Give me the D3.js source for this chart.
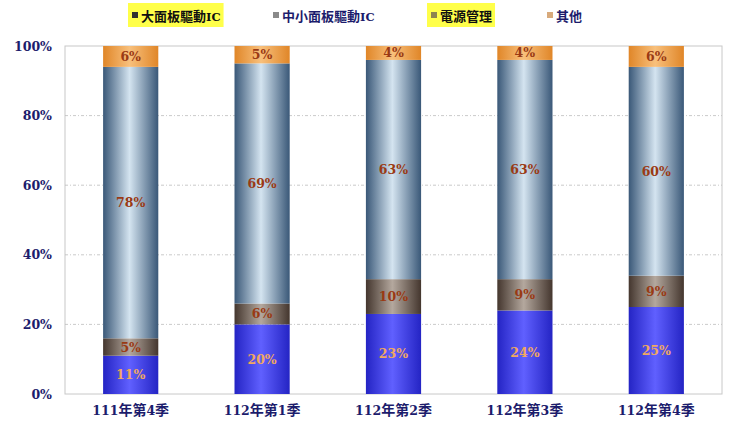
<!DOCTYPE html>
<html>
<head>
<meta charset="utf-8">
<script src="https://cdn.jsdelivr.net/npm/d3@7"></script>
<style>
  body { margin: 0; background: #fff; }
  svg { display: block; }
</style>
</head>
<body>
<svg id="chart" width="740" height="432"></svg>
<script>
// Quarters on the x axis
const quarters = ['111年第4季', '112年第1季', '112年第2季', '112年第3季', '112年第4季']

// Share of each product line, in percent
const largePanel = [11, 20, 23, 24, 25]
const powerMgmt = [5, 6, 10, 9, 9]
const smallPanel = [78, 69, 63, 63, 60]
const others = [6, 5, 4, 4, 6]

const yTicks = [0, 20, 40, 60, 80, 100]

// Stack order, bottom to top
const series = [
  { key: 'large', name: '大面板驅動IC', values: largePanel },
  { key: 'power', name: '電源管理', values: powerMgmt },
  { key: 'small', name: '中小面板驅動IC', values: smallPanel },
  { key: 'other', name: '其他', values: others }
]

// Legend order
const legendOrder = ['large', 'small', 'power', 'other']

const styles = {
  large: { edge: '#2424c4', mid: '#6060ff', label: '#f0a860', swatch: '#303030', highlight: true },
  power: { edge: '#44362e', mid: '#b4a89e', label: '#9a3a14', swatch: '#8c8450', highlight: true },
  small: { edge: '#3a5878', mid: '#d4e4f0', label: '#9a3a14', swatch: '#8a8a8a', highlight: false },
  other: { edge: '#e08628', mid: '#f8c07c', label: '#9a3a14', swatch: '#d8aa7c', highlight: false }
}

const SERIF = '"DejaVu Serif", serif'
const CJK = '"Noto Sans CJK TC", sans-serif'

const margin = { top: 46, right: 18, bottom: 38, left: 65 }
const width = 740 - margin.left - margin.right
const height = 432 - margin.top - margin.bottom

const svg = d3.select('#chart')
const defs = svg.append('defs')

// Horizontal gradients giving the bars their cylinder look
series.forEach(s => {
  const st = styles[s.key]
  const grad = defs.append('linearGradient')
    .attr('id', 'grad-' + s.key)
    .attr('x1', 0).attr('x2', 1).attr('y1', 0).attr('y2', 0)
  grad.append('stop').attr('offset', '0%').attr('stop-color', st.edge)
  grad.append('stop').attr('offset', '48%').attr('stop-color', st.mid)
  grad.append('stop').attr('offset', '100%').attr('stop-color', st.edge)
})

// Write mixed text: latin/digits in serif, CJK in sans
function mixedText (sel, str, size, cjkSize) {
  sel.text(null)
  str.match(/[\u4e00-\u9fff]+|[^\u4e00-\u9fff]+/g).forEach(part => {
    const isCjk = /[\u4e00-\u9fff]/.test(part)
    sel.append('tspan')
      .style('font-family', isCjk ? CJK : SERIF)
      .style('font-size', (isCjk ? cjkSize : size) + 'px')
      .text(part)
  })
}

const g = svg.append('g')
  .attr('transform', `translate(${margin.left},${margin.top})`)

const x = d3.scaleBand()
  .domain(quarters)
  .range([0, width])
  .paddingInner(0.58)
  .paddingOuter(0.29)

const y = d3.scaleLinear()
  .domain([0, 100])
  .range([height, 0])

// Plot frame
g.append('rect')
  .attr('width', width)
  .attr('height', height)
  .attr('fill', 'none')
  .attr('stroke', '#c8c8c8')

// Grid lines
g.selectAll('.grid')
  .data(yTicks.filter(t => t > 0 && t < 100))
  .enter()
  .append('line')
  .attr('class', 'grid')
  .attr('x1', 0)
  .attr('x2', width)
  .attr('y1', d => y(d))
  .attr('y2', d => y(d))
  .attr('stroke', '#bcbcbc')
  .attr('stroke-width', 0.8)
  .attr('stroke-dasharray', '3,2,1,2')

// Y axis
const yAxis = g.append('g')
  .call(d3.axisLeft(y).tickValues(yTicks).tickSize(0).tickPadding(13).tickFormat(d => d + '%'))
yAxis.select('.domain').remove()
yAxis.selectAll('text')
  .attr('fill', '#1c1c6c')
  .style('font-family', SERIF)
  .style('font-weight', 'bold')
  .style('font-size', '12.5px')

// X axis
const xAxis = g.append('g')
  .attr('transform', `translate(0,${height})`)
  .call(d3.axisBottom(x).tickSize(0).tickPadding(14))
xAxis.select('.domain').remove()
xAxis.selectAll('text')
  .attr('fill', '#1c1c6c')
  .style('font-weight', 'bold')
  .each(function (d) { mixedText(d3.select(this), d, 12.5, 14) })

// Stacked segments
const rows = quarters.map((q, i) => {
  const row = { quarter: q }
  series.forEach(s => { row[s.key] = s.values[i] })
  return row
})
const stacked = d3.stack().keys(series.map(s => s.key))(rows)

const layers = g.selectAll('.layer')
  .data(stacked)
  .enter()
  .append('g')
  .attr('class', 'layer')

layers.selectAll('rect')
  .data(d => d)
  .enter()
  .append('rect')
  .attr('x', d => x(d.data.quarter))
  .attr('width', x.bandwidth())
  .attr('y', d => y(d[1]))
  .attr('height', d => y(d[0]) - y(d[1]))
  .attr('fill', function () { return 'url(#grad-' + d3.select(this.parentNode).datum().key + ')' })

layers.each(function (layer) {
  d3.select(this).selectAll('text')
    .data(layer)
    .enter()
    .append('text')
    .attr('x', d => x(d.data.quarter) + x.bandwidth() / 2)
    .attr('y', d => (y(d[0]) + y(d[1])) / 2)
    .attr('dy', '0.36em')
    .attr('text-anchor', 'middle')
    .attr('fill', styles[layer.key].label)
    .style('font-family', SERIF)
    .style('font-weight', 'bold')
    .style('font-size', '12.5px')
    .text(d => (d[1] - d[0]) + '%')
})

// Legend
const legendX = [130, 271, 429, 545]
const legend = svg.append('g')
legendOrder.forEach((key, i) => {
  const s = series.find(d => d.key === key)
  const st = styles[key]
  const item = legend.append('g').attr('transform', `translate(${legendX[i]},15)`)
  const label = item.append('text')
    .attr('x', 11)
    .attr('dy', '0.36em')
    .attr('fill', st.highlight ? '#101010' : '#1c1c6c')
    .style('font-weight', 'bold')
  mixedText(label, s.name, 11.5, 13)
  const w = label.node().getComputedTextLength()
  if (st.highlight) {
    item.insert('rect', 'text')
      .attr('x', -2)
      .attr('y', -12)
      .attr('width', w + 16)
      .attr('height', 24)
      .attr('fill', '#ffff4a')
  }
  item.append('rect')
    .attr('x', 2)
    .attr('y', -3)
    .attr('width', 6)
    .attr('height', 6)
    .attr('fill', st.swatch)
})
</script>
</body>
</html>
